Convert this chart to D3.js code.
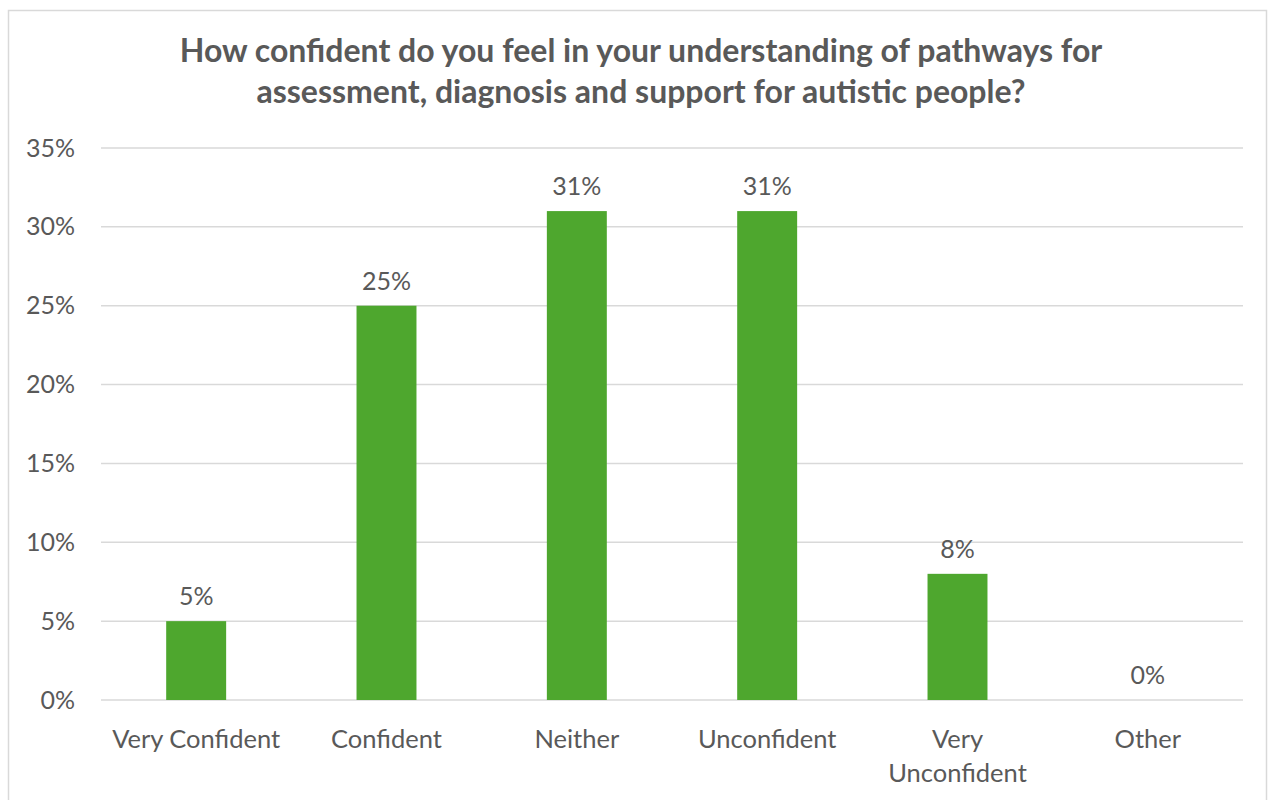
<!DOCTYPE html>
<html>
<head>
<meta charset="utf-8">
<script src="https://cdn.jsdelivr.net/npm/d3@7"></script>
<style>
  html, body { margin: 0; padding: 0; background: #fff; }
  svg { display: block; }
  text { font-family: Lato, "Open Sans", sans-serif; fill: #595959; }
</style>
</head>
<body>
<svg id="chart" width="1269" height="800"></svg>
<script>
// Survey responses
const categories = ["Very Confident", "Confident", "Neither", "Unconfident", "Very Unconfident", "Other"];
const values = [5, 25, 31, 31, 8, 0];
const yTicks = [0, 5, 10, 15, 20, 25, 30, 35];
const titleLines = [
  "How confident do you feel in your understanding of pathways for",
  "assessment, diagnosis and support for autistic people?"
];

const svg = d3.select("#chart");
const W = 1269, H = 800;
const margin = { left: 101, right: 26, top: 148, bottom: 100 };

// Chart frame
svg.append("rect")
  .attr("x", 8.5).attr("y", 10.5)
  .attr("width", 1258).attr("height", 800)
  .attr("fill", "#fff")
  .attr("stroke", "#d9d9d9").attr("stroke-width", 1.5);

const x = d3.scaleBand()
  .domain(categories)
  .range([margin.left, W - margin.right])
  .paddingInner(0.685)
  .paddingOuter(0.3425);

const y = d3.scaleLinear()
  .domain([0, 35])
  .range([H - margin.bottom, margin.top]);

// Gridlines
svg.append("g")
  .selectAll("line")
  .data(yTicks)
  .join("line")
  .attr("x1", margin.left).attr("x2", W - margin.right)
  .attr("y1", d => y(d)).attr("y2", d => y(d))
  .attr("stroke", "#d9d9d9").attr("stroke-width", 1.5);

// Y axis labels
const yAxis = d3.axisLeft(y).tickValues(yTicks).tickFormat(d => d + "%").tickSize(0).tickPadding(26);
const gy = svg.append("g").attr("transform", `translate(${margin.left},0)`).call(yAxis);
gy.select(".domain").remove();
gy.selectAll("text")
  .attr("font-size", 25)
  .attr("font-family", "Lato, 'Open Sans', sans-serif")
  .attr("fill", "#595959");

// Bars
svg.append("g")
  .selectAll("rect")
  .data(values)
  .join("rect")
  .attr("x", (d, i) => x(categories[i]))
  .attr("y", d => y(d))
  .attr("width", x.bandwidth())
  .attr("height", d => y(0) - y(d))
  .attr("fill", "#4ea72e");

// Value labels
svg.append("g")
  .selectAll("text")
  .data(values)
  .join("text")
  .attr("x", (d, i) => x(categories[i]) + x.bandwidth() / 2)
  .attr("y", d => y(d) - 16)
  .attr("text-anchor", "middle")
  .attr("font-size", 25)
  .text(d => d + "%");

// Category labels (wrapped where the band is too narrow)
const catG = svg.append("g");
categories.forEach((c, i) => {
  const cx = x(c) + x.bandwidth() / 2;
  const t = catG.append("text")
    .attr("x", cx)
    .attr("y", y(0) + 48)
    .attr("text-anchor", "middle")
    .attr("font-size", 25.5);
  const lines = c === "Very Unconfident" ? ["Very", "Unconfident"] : [c];
  lines.forEach((ln, k) => {
    t.append("tspan").attr("x", cx).attr("dy", k === 0 ? 0 : 34).text(ln);
  });
});

// Title
const title = svg.append("text")
  .attr("x", 641)
  .attr("y", 62)
  .attr("text-anchor", "middle")
  .attr("font-size", 32)
  .attr("font-weight", "bold");
titleLines.forEach((ln, k) => {
  title.append("tspan").attr("x", 641).attr("dy", k === 0 ? 0 : 41).text(ln);
});
</script>
</body>
</html>
